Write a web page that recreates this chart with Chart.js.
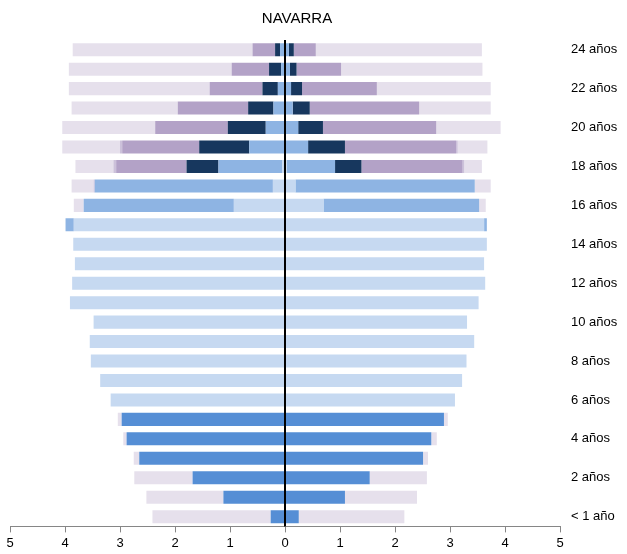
<!DOCTYPE html>
<html>
<head>
<meta charset="utf-8">
<script src="https://cdn.jsdelivr.net/npm/chart.js@4"></script>
<style>
  body { margin: 0; background: #fff; }
  canvas { display: block; }
</style>
</head>
<body>
<canvas id="pyramid" width="627" height="554"></canvas>
<script>
// ages 0..24, bottom to top
const ages = ['< 1 año', '1 año'];
for (let a = 2; a <= 24; a++) ages.push(a + ' años');

// left side (shown as negative)
const infantilL  = [0.26,1.12,1.68,2.65,2.88,2.97,0,0,0,0,0,0,0,0,0,0,0,0,0,0,0,0,0,0,0];
const obligL     = [0,0,0,0,0,0,3.17,3.36,3.53,3.55,3.48,3.91,3.87,3.82,3.85,3.84,0.93,0.22,0.05,0,0,0,0,0,0];
const secPostL   = [0,0,0,0,0,0,0,0,0,0,0,0,0,0,0,0.15,2.73,3.24,1.16,0.65,0.35,0.21,0.13,0.07,0.09];
const fpSupL     = [0,0,0,0,0,0,0,0,0,0,0,0,0,0,0,0,0,0,0.58,0.91,0.69,0.46,0.28,0.22,0.09];
const univL      = [0,0,0,0,0,0,0,0,0,0,0,0,0,0,0,0,0,0,1.28,1.40,1.32,1.28,0.96,0.68,0.41];
const otrosL     = [0,0,0,0,0,0,0,0,0,0,0,0,0,0,0,0,0,0.02,0.05,0.04,0,0,0,0,0];
const noEscL     = [2.15,1.40,1.06,0.10,0.06,0.07,0,0,0,0,0,0,0,0,0,0,0.18,0.40,0.69,1.05,1.69,1.93,2.56,2.96,3.27];

// right side
const infantilR  = [0.25,1.09,1.54,2.51,2.66,2.89,0,0,0,0,0,0,0,0,0,0,0,0,0,0,0,0,0,0,0];
const obligR     = [0,0,0,0,0,0,3.09,3.22,3.30,3.44,3.31,3.52,3.64,3.62,3.67,3.62,0.70,0.19,0.03,0,0,0,0,0,0];
const secPostR   = [0,0,0,0,0,0,0,0,0,0,0,0,0,0,0,0.05,2.83,3.26,0.88,0.42,0.24,0.14,0.11,0.09,0.07];
const fpSupR     = [0,0,0,0,0,0,0,0,0,0,0,0,0,0,0,0,0,0,0.48,0.67,0.45,0.31,0.20,0.12,0.09];
const univR      = [0,0,0,0,0,0,0,0,0,0,0,0,0,0,0,0,0,0,1.84,2.02,2.06,1.99,1.36,0.81,0.40];
const otrosR     = [0,0,0,0,0,0,0,0,0,0,0,0,0,0,0,0,0,0,0.03,0.03,0,0,0,0,0];
const noEscR     = [1.92,1.31,1.04,0.09,0.10,0.07,0,0,0,0,0,0,0,0,0,0,0.12,0.29,0.32,0.54,1.17,1.30,2.07,2.57,3.02];

const xTicks = [-5,-4,-3,-2,-1,0,1,2,3,4,5];

// stacking order from the centre outwards
const series = [
  { name: 'infantil', left: infantilL, right: infantilR, color: '#558ed5' },
  { name: 'obligatoria', left: obligL, right: obligR, color: '#c6d9f1' },
  { name: 'secundaria', left: secPostL, right: secPostR, color: '#8eb4e3' },
  { name: 'fp superior', left: fpSupL, right: fpSupR, color: '#17375e' },
  { name: 'universidad', left: univL, right: univR, color: '#b3a2c7' },
  { name: 'otros', left: otrosL, right: otrosR, color: '#ccc1da' },
  { name: 'no escolarizado', left: noEscL, right: noEscR, color: '#e6e0ec' }
];

const datasets = [];
series.forEach(s => {
  datasets.push({ label: s.name + ' L', data: s.left.map(v => -v), backgroundColor: s.color, stack: 'p' });
  datasets.push({ label: s.name + ' R', data: s.right, backgroundColor: s.color, stack: 'p' });
});

const FONT = '"Liberation Sans", Arial, sans-serif';

// black line at zero, drawn over the bars
const zeroLine = {
  id: 'zeroLine',
  afterDatasetsDraw(chart) {
    const { ctx, chartArea, scales } = chart;
    const x = scales.x.getPixelForValue(0);
    ctx.save();
    ctx.strokeStyle = '#000';
    ctx.lineWidth = 2;
    ctx.beginPath();
    ctx.moveTo(x, chartArea.top);
    ctx.lineTo(x, chartArea.bottom);
    ctx.stroke();
    ctx.restore();
  }
};

const titleText = {
  id: 'titleText',
  afterDraw(chart) {
    const ctx = chart.ctx;
    ctx.save();
    ctx.fillStyle = '#000';
    ctx.font = '15px ' + FONT;
    ctx.textAlign = 'center';
    ctx.textBaseline = 'middle';
    ctx.fillText('NAVARRA', 297, 19);
    ctx.restore();
  }
};

new Chart(document.getElementById('pyramid'), {
  type: 'bar',
  data: { labels: ages, datasets: datasets },
  options: {
    indexAxis: 'y',
    responsive: false,
    animation: false,
    barPercentage: 0.67,
    categoryPercentage: 1,
    layout: { padding: { top: 40, left: 10, right: 0, bottom: 0 } },
    plugins: {
      legend: { display: false },
      tooltip: { enabled: false },
      title: { display: false }
    },
    scales: {
      x: {
        stacked: true,
        min: -5,
        max: 5,
        afterBuildTicks: axis => { axis.ticks = xTicks.map(v => ({ value: v })); },
        ticks: {
          callback: v => Math.abs(v),
          color: '#000',
          font: { family: FONT, size: 13 },
          padding: 3,
          maxRotation: 0
        },
        grid: { drawOnChartArea: false, tickLength: 6, color: '#868686' },
        border: { color: '#868686', width: 1 }
      },
      y: {
        stacked: true,
        reverse: true,
        position: 'right',
        afterFit: axis => { axis.width = 67; },
        ticks: {
          autoSkip: false,
          callback: (v, i) => (i % 2 === 0 ? ages[i] : ''),
          color: '#000',
          font: { family: FONT, size: 13 },
          padding: 3
        },
        grid: { display: false },
        border: { display: false }
      }
    }
  },
  plugins: [zeroLine, titleText]
});
</script>
</body>
</html>
